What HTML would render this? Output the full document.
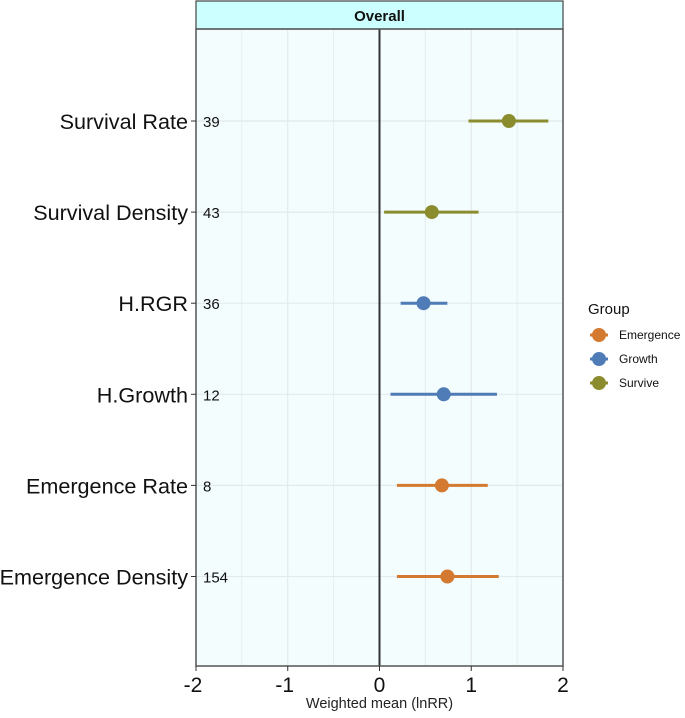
<!DOCTYPE html>
<html><head><meta charset="utf-8"><style>
body{margin:0;background:#fff;}
svg text{font-family:"Liberation Sans",Arial,sans-serif;}
</style></head><body>
<svg id="c" width="685" height="713" xmlns="http://www.w3.org/2000/svg"></svg>
<script>
const categories=["Survival Rate","Survival Density","H.RGR","H.Growth","Emergence Rate","Emergence Density"];
const counts=["39","43","36","12","8","154"];
const groups=["Survive","Survive","Growth","Growth","Emergence","Emergence"];
const means=[1.41,0.57,0.48,0.70,0.68,0.74];
const lower=[0.97,0.05,0.23,0.12,0.19,0.19];
const upper=[1.84,1.08,0.74,1.28,1.18,1.30];
const xTicks=[-2,-1,0,1,2];
const legendGroups=["Emergence","Growth","Survive"];
const colors={Emergence:"#D47A30",Growth:"#4F7BB6",Survive:"#8A8C2E"};

const L=196,R=563,T=29,B=666;
const x=v=>L+(v+2)/4*(R-L);
const rowY=i=>121+i*91.1;
const svg=document.getElementById('c');
const NS="http://www.w3.org/2000/svg";
function mk(t,a,txt){const e=document.createElementNS(NS,t);for(const k in a)e.setAttribute(k,a[k]);if(txt!=null)e.textContent=txt;svg.appendChild(e);return e;}

let e=mk('rect',{x:L,y:T,width:R-L,height:B-T,fill:'#F3FDFE'});

for(let v=-2;v<=2;v+=0.5){e=mk('line',{x1:x(v),x2:x(v),y1:T,y2:B,stroke:'#E3E9EC','stroke-width':v%1===0?1.2:0.8});
}
categories.forEach((c,i)=>{e=mk('line',{x1:L,x2:R,y1:rowY(i),y2:rowY(i),stroke:'#E3E9EC','stroke-width':1.2});
});
e=mk('line',{x1:x(0),x2:x(0),y1:T,y2:B,stroke:'#333','stroke-width':2});

e=mk('rect',{x:L,y:1,width:R-L,height:T-1,fill:'#CCFFFF',stroke:'#444','stroke-width':1.2});

e=mk('text',{x:(L+R)/2,y:21,'text-anchor':'middle','font-size':15,'font-weight':'bold',fill:'#111'},'Overall');

e=mk('rect',{x:L,y:T,width:R-L,height:B-T,fill:'none',stroke:'#555','stroke-width':1.5});


categories.forEach((c,i)=>{
 const y=rowY(i),col=colors[groups[i]];
 e=mk('text',{x:188,y:y+8,'text-anchor':'end','font-size':21.6,fill:'#111'},c);
 
 e=mk('line',{x1:191,x2:196,y1:y,y2:y,stroke:'#333','stroke-width':1});
 
 e=mk('text',{x:203,y:y+6,'font-size':15,fill:'#111'},counts[i]);
 
 e=mk('line',{x1:x(lower[i]),x2:x(upper[i]),y1:y,y2:y,stroke:col,'stroke-width':3});
 
 e=mk('circle',{cx:x(means[i]),cy:y,r:7,fill:col});
 
});
xTicks.forEach(v=>{
 e=mk('line',{x1:x(v),x2:x(v),y1:B,y2:B+5,stroke:'#333','stroke-width':1});
 
 e=mk('text',{x:x(v)-(v<0?3:0),y:B+26,'text-anchor':'middle','font-size':21,fill:'#111'},String(v));
 
});
e=mk('text',{x:x(0),y:708,'text-anchor':'middle','font-size':14.5,fill:'#222'},'Weighted mean (lnRR)');

e=mk('text',{x:588,y:314,'font-size':15,fill:'#111'},'Group');

legendGroups.forEach((g,i)=>{
 const y=335+i*24;
 e=mk('line',{x1:590,x2:608,y1:y,y2:y,stroke:colors[g],'stroke-width':3});
 
 e=mk('circle',{cx:599,cy:y,r:7,fill:colors[g]});
 
 e=mk('text',{x:619,y:y+4,'font-size':12,fill:'#111'},g);
 
});
</script>
</body></html>
